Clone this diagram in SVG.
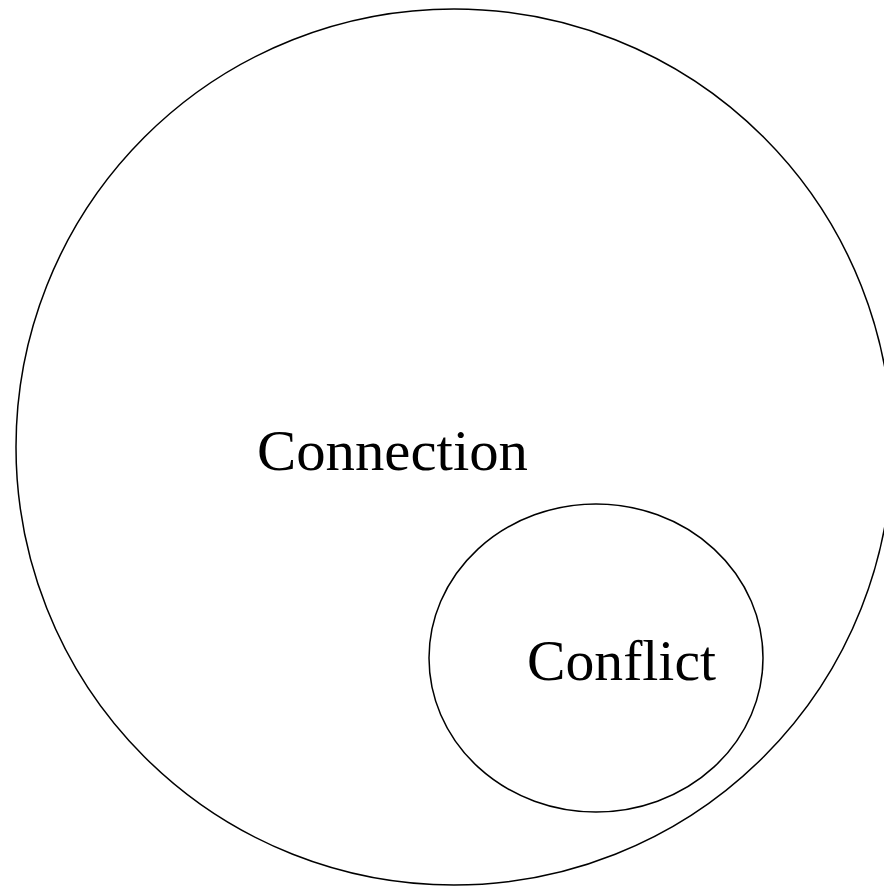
<svg xmlns="http://www.w3.org/2000/svg" width="884" height="887" viewBox="0 0 884 887">
<style>
.shape{fill:none;stroke:#000;stroke-width:1.5}
.lbl{font-family:"Liberation Serif","Times New Roman",serif;font-size:58px;fill:#000}
</style>
<rect width="884" height="887" fill="#fff"/>
<g id="connection">
<ellipse class="shape" cx="454" cy="447" rx="438" ry="438"/>
<text class="lbl" x="257" y="470" textLength="271" lengthAdjust="spacingAndGlyphs">Connection</text>
</g>
<g id="conflict">
<ellipse class="shape" cx="596" cy="658" rx="167" ry="154"/>
<text class="lbl" x="527" y="680" textLength="189" lengthAdjust="spacingAndGlyphs">Conflict</text>
</g>
<g id="connectors"/>
</svg>
